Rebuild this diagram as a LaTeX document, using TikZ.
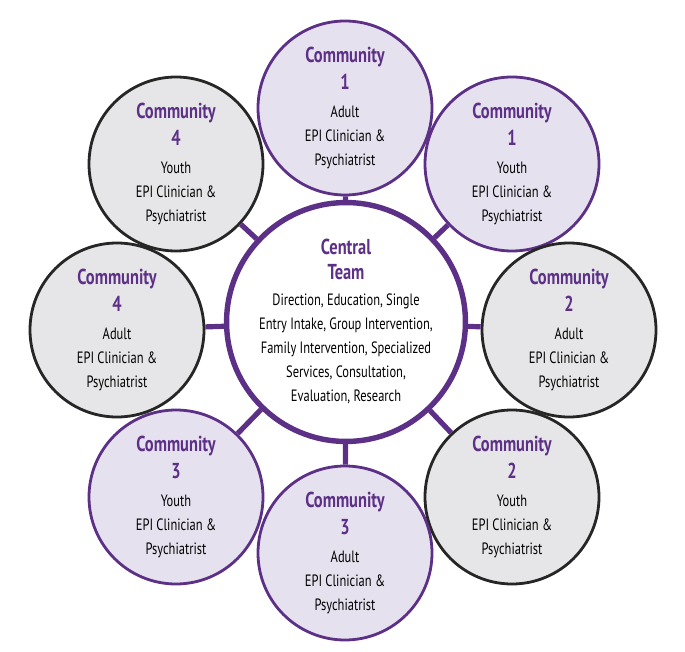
\documentclass[tikz,border=0pt]{standalone}
\usepackage{fontspec}
\setmainfont{PT Sans}[FakeStretch=0.76]
\usepackage{tikz}
\usetikzlibrary{positioning}
\definecolor{epipurple}{RGB}{93,48,135}
\definecolor{epililac}{RGB}{230,225,238}
\definecolor{epigrey}{RGB}{230,230,232}
\newcommand{\commhead}{\bfseries\color{epipurple}\fontsize{10.8}{13}\selectfont}

\begin{document}
\begin{tikzpicture}[x=0.5pt, y=-0.5pt,
          hub/.style={circle, draw=epipurple, line width=2.7pt, fill=white,
                      minimum size=108pt, inner sep=0pt, align=center,
                      font=\fontsize{8.2}{12}\selectfont},
          lilac/.style={circle, draw=epipurple, line width=1.4pt, fill=epililac,
                      minimum size=87pt, inner sep=0pt, align=center,
                      font=\fontsize{8.2}{12}\selectfont},
          grey/.style={lilac, draw=black!85, fill=epigrey},
          link/.style={epipurple, line width=2.6pt}
        ]
          \useasboundingbox (0,0) rectangle (685,652);
          \node[hub] (ctr) at (346,322) {{\commhead Central}\\[0.5pt]{\commhead Team}\\[1pt]
            Direction, Education, Single\\Entry Intake, Group Intervention,\\
            Family Intervention, Specialized\\Services, Consultation,\\Evaluation, Research};
          \node[lilac] (c1a) at (345,108) {{\commhead Community}\\[1.5pt]{\commhead 1}\\[2pt]Adult\\EPI Clinician \&\\Psychiatrist};
          \node[lilac] (c1y) at (512,164) {{\commhead Community}\\[1.5pt]{\commhead 1}\\[2pt]Youth\\EPI Clinician \&\\Psychiatrist};
          \node[grey]  (c2a) at (569,330) {{\commhead Community}\\[1.5pt]{\commhead 2}\\[2pt]Adult\\EPI Clinician \&\\Psychiatrist};
          \node[grey]  (c2y) at (512,497) {{\commhead Community}\\[1.5pt]{\commhead 2}\\[2pt]Youth\\EPI Clinician \&\\Psychiatrist};
          \node[lilac] (c3a) at (345,553) {{\commhead Community}\\[1.5pt]{\commhead 3}\\[2pt]Adult\\EPI Clinician \&\\Psychiatrist};
          \node[lilac] (c3y) at (176,497) {{\commhead Community}\\[1.5pt]{\commhead 3}\\[2pt]Youth\\EPI Clinician \&\\Psychiatrist};
          \node[grey]  (c4a) at (117,330) {{\commhead Community}\\[1.5pt]{\commhead 4}\\[2pt]Adult\\EPI Clinician \&\\Psychiatrist};
          \node[grey]  (c4y) at (176,164) {{\commhead Community}\\[1.5pt]{\commhead 4}\\[2pt]Youth\\EPI Clinician \&\\Psychiatrist};
          % spokes from the central team
          \foreach \c in {c1a,c1y,c2a,c2y,c3a,c3y,c4a,c4y}
            \draw[link] (ctr) -- (\c);
        \end{tikzpicture}
\end{document}
